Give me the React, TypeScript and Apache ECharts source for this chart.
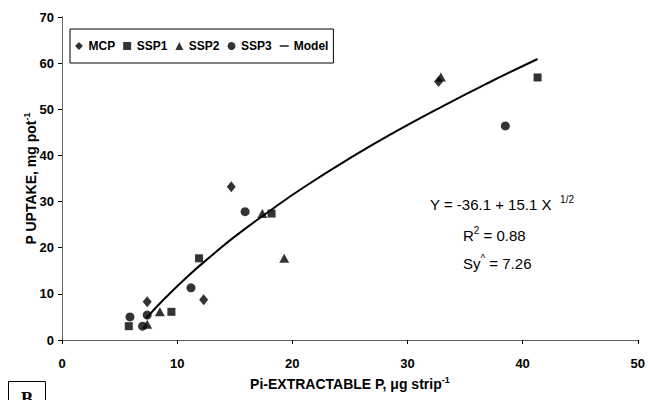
import React, { useEffect, useRef } from "react";
import * as echarts from "echarts";

const FONT = "'Liberation Sans', Arial, sans-serif";

const xTicks = [0, 10, 20, 30, 40, 50];
const yTicks = [0, 10, 20, 30, 40, 50, 60, 70];

const mcp: number[][] = [
  [7.4, 8.3],
  [12.3, 8.7],
  [14.7, 33.2],
  [32.7, 56.0],
];
const ssp1: number[][] = [
  [5.8, 3.0],
  [9.5, 6.1],
  [11.9, 17.7],
  [18.2, 27.4],
  [41.3, 56.9],
];
const ssp2: number[][] = [
  [7.4, 3.4],
  [8.5, 6.1],
  [17.4, 27.4],
  [19.3, 17.7],
  [32.9, 57.0],
];
const ssp3: number[][] = [
  [5.9, 5.0],
  [7.0, 3.0],
  [7.4, 5.4],
  [11.2, 11.3],
  [15.9, 27.8],
  [38.5, 46.4],
];
const modelX = [7.3, 9, 11, 13, 15, 18, 21, 25, 29, 33, 37, 41.3];
const modelY = [4.7, 9.2, 14.0, 18.3, 22.4, 27.9, 33.1, 39.4, 45.2, 50.6, 55.7, 60.9];

export default function App() {
  const ref = useRef<HTMLDivElement>(null);
  useEffect(() => {
    if (!ref.current) return;
    const chart = echarts.init(ref.current, null, { renderer: "svg" });
    const axisLabel = {
      color: "#000",
      fontFamily: FONT,
      fontWeight: "bold" as const,
      fontSize: 13,
    };
    const supRich = (size: number) => ({
      t: { fontFamily: FONT, fontWeight: "bold", fontSize: size, color: "#000" },
      s: {
        fontFamily: FONT,
        fontWeight: "bold",
        fontSize: 9,
        color: "#000",
        padding: [0, 0, 8, 0],
      },
    });
    const annRich = {
      a: { fontFamily: FONT, fontSize: 15, fill: "#000" },
      s: { fontFamily: FONT, fontSize: 10, fill: "#000", padding: [0, 0, 9, 0] },
    };
    chart.setOption({
      animation: false,
      backgroundColor: "#fff",
      textStyle: { fontFamily: FONT },
      grid: { left: 62, right: 7, top: 17, bottom: 60 },
      legend: {
        left: 70,
        top: 29,
        orient: "horizontal",
        borderColor: "#000",
        borderWidth: 1,
        padding: [11, 5, 11, 5],
        itemWidth: 9,
        itemHeight: 8,
        itemGap: 8,
        textStyle: { color: "#000", fontFamily: FONT, fontWeight: "bold", fontSize: 12 },
        data: [
          { name: "MCP", icon: "path://M5,0 L10,5 L5,10 L0,5 Z" },
          { name: "SSP1", icon: "path://M0,0 L10,0 L10,10 L0,10 Z" },
          { name: "SSP2", icon: "path://M5,0 L10,10 L0,10 Z" },
          { name: "SSP3", icon: "circle" },
          { name: "Model", icon: "path://M0,0 L16,0 L16,2.4 L0,2.4 Z" },
        ],
      },
      xAxis: [
        {
          type: "value",
          min: xTicks[0],
          max: xTicks[xTicks.length - 1],
          interval: 10,
          axisLine: { show: true, onZero: false, lineStyle: { color: "#000", width: 1 } },
          axisTick: { show: true, inside: false, length: 4, lineStyle: { color: "#000" } },
          axisLabel: { ...axisLabel, margin: 17 },
          splitLine: { show: false },
          name: "{t|Pi-EXTRACTABLE P, μg strip}{s|-1}",
          nameLocation: "middle",
          nameGap: 35,
          nameMoveOverlap: false,
          nameTextStyle: { rich: supRich(14) },
        },
        {
          type: "value",
          position: "top",
          min: 0,
          max: 50,
          interval: 10,
          axisLine: { show: true, lineStyle: { color: "#777", width: 1, type: "dotted" } },
          axisTick: { show: false },
          axisLabel: { show: false },
          splitLine: { show: false },
        },
      ],
      yAxis: [
        {
          type: "value",
          min: yTicks[0],
          max: yTicks[yTicks.length - 1],
          interval: 10,
          axisLine: { show: true, onZero: false, lineStyle: { color: "#222", width: 1 } },
          axisTick: { show: true, inside: false, length: 4, lineStyle: { color: "#000" } },
          axisLabel: { ...axisLabel, margin: 8 },
          splitLine: { show: false },
          name: "{t|P UPTAKE, mg pot}{s|-1}",
          nameLocation: "middle",
          nameGap: 23,
          nameMoveOverlap: false,
          nameRotate: 90,
          nameTextStyle: { rich: supRich(14) },
        },
        {
          type: "value",
          position: "right",
          min: 0,
          max: 70,
          interval: 10,
          axisLine: { show: true, lineStyle: { color: "#777", width: 1, type: "dotted" } },
          axisTick: { show: false },
          axisLabel: { show: false },
          splitLine: { show: false },
        },
      ],
      series: [
        {
          name: "Model",
          type: "line",
          data: modelX.map((x, i) => [x, modelY[i]]),
          smooth: true,
          symbol: "none",
          itemStyle: { color: "#000" },
          lineStyle: { color: "#000", width: 2 },
          z: 1,
        },
        {
          name: "MCP",
          type: "scatter",
          data: mcp,
          symbol: "diamond",
          symbolSize: [9, 11],
          itemStyle: { color: "#000" },
          z: 3,
        },
        {
          name: "SSP1",
          type: "scatter",
          data: ssp1,
          symbol: "rect",
          symbolSize: 8,
          itemStyle: { color: "#000" },
          z: 3,
        },
        {
          name: "SSP2",
          type: "scatter",
          data: ssp2,
          symbol: "triangle",
          symbolSize: [10, 9],
          itemStyle: { color: "#000" },
          z: 3,
        },
        {
          name: "SSP3",
          type: "scatter",
          data: ssp3,
          symbol: "circle",
          symbolSize: 9,
          itemStyle: { color: "#000" },
          z: 3,
        },
      ],
      graphic: [
        {
          type: "text",
          x: 430,
          y: 204,
          style: {
            text: "{a|Y = -36.1 + 15.1 X  }{s|1/2}",
            rich: annRich,
            align: "left",
            verticalAlign: "middle",
          },
        },
        {
          type: "text",
          x: 463,
          y: 235,
          style: {
            text: "{a|R}{s|2}{a| = 0.88}",
            rich: annRich,
            align: "left",
            verticalAlign: "middle",
          },
        },
        {
          type: "text",
          x: 463,
          y: 263,
          style: {
            text: "{a|Sy}{s|^}{a| = 7.26}",
            rich: annRich,
            align: "left",
            verticalAlign: "middle",
          },
        },
        {
          type: "rect",
          shape: { x: 8.5, y: 381.5, width: 37, height: 30 },
          style: { fill: "none", stroke: "#000", lineWidth: 1 },
        },
        {
          type: "text",
          x: 27,
          y: 390,
          style: {
            text: "B",
            font: "bold 18px 'Liberation Serif', 'Times New Roman', serif",
            fill: "#000",
            align: "center",
            verticalAlign: "top",
          },
        },
      ],
    });
    return () => chart.dispose();
  }, []);
  return (
    <div
      ref={ref}
      style={{ position: "fixed", left: 0, top: 0, width: 648, height: 400 }}
    />
  );
}
